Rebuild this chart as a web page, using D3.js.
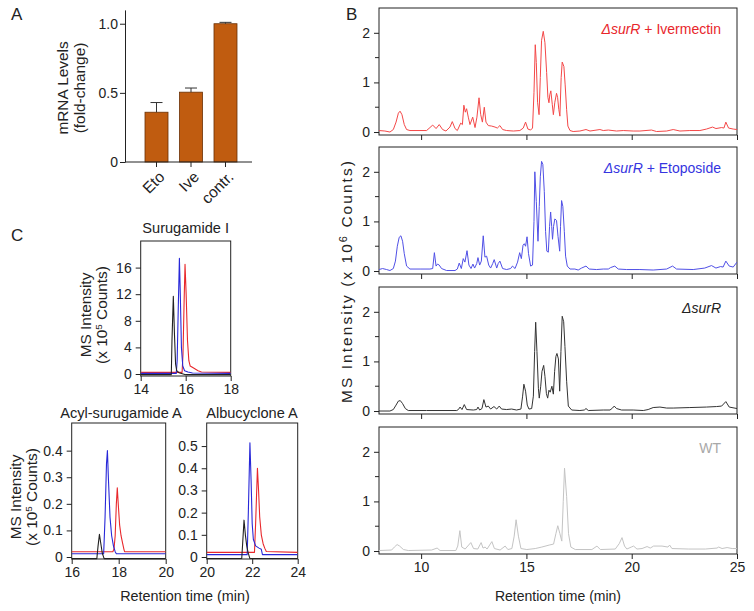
<!DOCTYPE html>
<html><head><meta charset="utf-8">
<script src="https://cdn.jsdelivr.net/npm/d3@7"></script>
<style>
body{margin:0;background:#fff;}
svg text{font-family:"Liberation Sans",Arial,sans-serif;fill:#222;}
</style></head><body>
<svg id="c" width="754" height="611"></svg>
<script>
// ---------- Panel A data ----------
const barCategories = ["Eto", "Ive", "contr."];
const barValues = [0.36, 0.505, 1.0];
const barErrors = [0.07, 0.03, 0.01];
const barTicks = [0, 0.5, 1.0];

// ---------- Panel B data (retention time, intensity x10^6) ----------
const ivermectinTrace = [[8.0,0.03],[8.28,0.02],[8.52,0.0],[8.68,0.05],[8.81,0.2],[8.92,0.38],[9.0,0.42],[9.09,0.35],[9.2,0.15],[9.31,0.05],[9.47,0.03],[10.26,0.03],[10.42,0.09],[10.55,0.14],[10.71,0.07],[10.86,0.15],[11.02,0.05],[11.18,0.02],[11.37,0.1],[11.48,0.21],[11.61,0.07],[11.72,0.03],[11.88,0.18],[11.96,0.15],[12.03,0.54],[12.1,0.4],[12.16,0.47],[12.24,0.3],[12.32,0.15],[12.45,0.3],[12.56,0.09],[12.65,0.3],[12.75,0.69],[12.83,0.35],[12.91,0.2],[13.0,0.5],[13.08,0.2],[13.19,0.13],[13.35,0.12],[13.51,0.1],[13.62,0.08],[13.74,0.13],[13.87,0.05],[14.06,0.03],[14.38,0.02],[14.69,0.03],[14.85,0.08],[14.96,0.2],[15.07,0.06],[15.2,0.04],[15.29,0.08],[15.36,0.8],[15.42,1.76],[15.47,1.4],[15.53,0.6],[15.6,0.35],[15.66,1.1],[15.72,1.85],[15.8,2.03],[15.88,1.8],[15.96,1.2],[16.02,0.7],[16.07,0.59],[16.11,0.75],[16.16,0.83],[16.23,0.55],[16.28,0.35],[16.35,0.6],[16.43,0.78],[16.48,0.7],[16.54,0.45],[16.59,0.32],[16.65,1.1],[16.7,1.41],[16.78,1.32],[16.84,0.95],[16.91,0.45],[16.97,0.12],[17.07,0.03],[17.22,0.01],[17.54,0.02],[17.83,0.05],[18.02,0.02],[18.49,0.05],[18.65,0.03],[18.89,0.04],[19.28,0.02],[19.6,0.03],[20.07,0.02],[20.39,0.02],[20.94,0.04],[21.18,0.01],[21.66,0.02],[21.97,0.05],[22.29,0.02],[22.76,0.03],[23.24,0.03],[23.55,0.06],[23.84,0.1],[24.0,0.07],[24.27,0.09],[24.38,0.08],[24.47,0.2],[24.6,0.08],[24.82,0.06],[25.0,0.05]];

const etoposideTrace = [[8.0,0.03],[8.17,0.05],[8.36,0.03],[8.52,0.01],[8.68,0.05],[8.78,0.2],[8.87,0.5],[8.96,0.68],[9.04,0.71],[9.12,0.6],[9.2,0.35],[9.31,0.1],[9.47,0.04],[9.95,0.04],[10.42,0.04],[10.55,0.05],[10.63,0.37],[10.71,0.1],[10.78,0.14],[10.86,0.12],[10.97,0.05],[11.21,0.01],[11.61,0.01],[11.72,0.04],[11.81,0.16],[11.91,0.05],[12.0,0.25],[12.08,0.18],[12.18,0.41],[12.27,0.12],[12.37,0.05],[12.46,0.14],[12.54,0.06],[12.64,0.15],[12.7,0.27],[12.78,0.12],[12.86,0.2],[12.95,0.71],[13.03,0.28],[13.11,0.3],[13.21,0.12],[13.3,0.06],[13.4,0.15],[13.47,0.23],[13.59,0.06],[13.66,0.15],[13.74,0.2],[13.87,0.05],[14.06,0.03],[14.25,0.05],[14.34,0.1],[14.46,0.05],[14.58,0.18],[14.68,0.37],[14.76,0.25],[14.84,0.52],[14.9,0.55],[14.96,0.5],[15.03,0.69],[15.1,0.35],[15.2,0.1],[15.29,0.12],[15.36,1.0],[15.4,2.0],[15.47,1.4],[15.55,0.6],[15.61,1.3],[15.66,1.9],[15.72,2.21],[15.78,2.15],[15.85,1.6],[15.91,0.8],[15.97,0.4],[16.04,0.38],[16.1,0.9],[16.15,1.19],[16.2,0.9],[16.24,0.64],[16.29,0.9],[16.35,1.05],[16.43,1.02],[16.5,0.7],[16.58,0.4],[16.62,0.9],[16.67,1.42],[16.73,1.3],[16.8,0.8],[16.86,0.3],[16.94,0.1],[17.07,0.04],[17.3,0.04],[17.46,0.02],[17.62,0.06],[17.83,0.1],[17.98,0.04],[18.33,0.03],[18.65,0.04],[18.89,0.04],[19.0,0.07],[19.2,0.1],[19.36,0.04],[19.76,0.03],[20.39,0.03],[21.02,0.02],[21.66,0.04],[21.94,0.1],[22.13,0.04],[22.92,0.03],[23.47,0.06],[23.79,0.11],[24.0,0.06],[24.22,0.09],[24.34,0.08],[24.47,0.2],[24.63,0.1],[24.82,0.08],[25.0,0.18]];

const surRTrace = [[8.0,0.0],[8.52,0.0],[8.68,0.03],[8.81,0.12],[8.92,0.2],[9.01,0.21],[9.12,0.15],[9.25,0.05],[9.39,0.01],[10.26,0.01],[11.69,0.01],[11.77,0.03],[11.85,0.08],[11.94,0.03],[12.05,0.13],[12.16,0.03],[12.48,0.02],[12.64,0.03],[12.7,0.08],[12.78,0.02],[12.89,0.05],[12.98,0.23],[13.08,0.08],[13.19,0.1],[13.3,0.04],[13.46,0.09],[13.59,0.04],[13.71,0.1],[13.82,0.04],[14.06,0.03],[14.3,0.04],[14.53,0.02],[14.74,0.04],[14.82,0.3],[14.88,0.54],[14.96,0.4],[15.04,0.12],[15.12,0.04],[15.25,0.05],[15.33,0.3],[15.39,1.2],[15.44,1.79],[15.5,1.2],[15.57,0.45],[15.61,0.26],[15.68,0.5],[15.74,0.8],[15.82,0.92],[15.88,0.7],[15.95,0.35],[16.01,0.26],[16.07,0.42],[16.13,0.38],[16.21,0.5],[16.28,0.34],[16.34,0.8],[16.4,1.1],[16.45,1.16],[16.52,1.05],[16.58,0.4],[16.64,1.2],[16.7,1.91],[16.77,1.8],[16.83,1.3],[16.91,0.6],[16.99,0.1],[17.15,0.02],[17.54,0.01],[17.75,0.02],[17.83,0.05],[17.94,0.01],[18.65,0.02],[18.97,0.02],[19.09,0.06],[19.17,0.1],[19.28,0.05],[19.52,0.02],[20.07,0.02],[20.55,0.01],[20.78,0.03],[21.02,0.07],[21.34,0.08],[21.66,0.06],[21.97,0.06],[22.76,0.07],[23.55,0.08],[24.03,0.09],[24.27,0.1],[24.47,0.19],[24.63,0.08],[25.0,0.05]];

const wtTrace = [[8.0,0.01],[8.6,0.02],[8.73,0.08],[8.86,0.13],[8.98,0.1],[9.16,0.03],[9.39,0.01],[10.5,0.02],[10.76,0.06],[10.9,0.01],[11.65,0.01],[11.74,0.1],[11.84,0.41],[11.93,0.08],[12.09,0.04],[12.36,0.17],[12.49,0.05],[12.69,0.04],[12.85,0.17],[12.94,0.06],[13.04,0.08],[13.13,0.04],[13.36,0.19],[13.48,0.05],[13.75,0.02],[13.99,0.1],[14.12,0.03],[14.31,0.05],[14.42,0.3],[14.51,0.63],[14.62,0.3],[14.74,0.05],[15.02,0.03],[15.42,0.05],[15.73,0.08],[16.08,0.12],[16.29,0.14],[16.4,0.35],[16.49,0.51],[16.59,0.35],[16.68,0.2],[16.75,1.0],[16.81,1.67],[16.91,1.1],[17.0,0.35],[17.11,0.08],[17.32,0.03],[18.11,0.03],[18.35,0.1],[18.51,0.03],[19.22,0.04],[19.41,0.15],[19.54,0.27],[19.66,0.1],[19.77,0.04],[19.98,0.08],[20.09,0.1],[20.25,0.04],[20.49,0.05],[20.73,0.09],[20.88,0.06],[21.04,0.1],[21.44,0.1],[21.72,0.08],[21.8,0.12],[21.91,0.05],[22.71,0.04],[23.5,0.04],[24.05,0.06],[24.13,0.08],[24.29,0.05],[24.53,0.07],[24.77,0.05],[25.0,0.05]];

const bYTicks = [0, 1, 2];
const bYMinor = [0.5, 1.5];
const bXTicks = [10, 15, 20, 25];

// ---------- Panel C data (retention time, intensity x10^5) ----------
const surugamideBlack = [[14,-0.1],[15.36,-0.1],[15.39,5],[15.45,11.7],[15.5,6],[15.55,1.5],[15.6,0.5],[15.7,0.2],[15.85,0.05],[16,-0.1],[18,-0.1]];
const surugamideBlue = [[14,0.1],[15.58,0.1],[15.62,2],[15.67,10],[15.72,17.4],[15.76,12],[15.81,4],[15.87,1.2],[15.95,0.5],[16.1,0.3],[16.3,0.15],[18,0.1]];
const surugamideRed = [[14,0.25],[15.84,0.25],[15.88,3],[15.93,11],[15.97,16.5],[16.02,12],[16.08,5],[16.14,2],[16.2,1.2],[16.35,0.9],[16.55,0.5],[16.7,0.3],[18,0.25]];
const surugamideYTicks = [0, 4, 8, 12, 16];
const surugamideXTicks = [14, 16, 18];

const acylBlack = [[16,-0.006],[17.07,-0.006],[17.12,0.04],[17.18,0.085],[17.24,0.05],[17.3,0.015],[17.38,-0.006],[20,-0.006]];
const acylBlue = [[16,0.0125],[17.36,0.0125],[17.42,0.15],[17.48,0.35],[17.52,0.4],[17.56,0.3],[17.63,0.15],[17.7,0.08],[17.78,0.04],[17.85,0.02],[17.9,0.0125],[20,0.0125]];
const acylRed = [[16,0.02],[17.75,0.02],[17.8,0.03],[17.85,0.08],[17.9,0.2],[17.94,0.26],[17.98,0.2],[18.04,0.12],[18.1,0.08],[18.17,0.05],[18.22,0.03],[18.25,0.02],[20,0.02]];
const acylYTicks = [0, 0.1, 0.2, 0.3, 0.4];
const acylXTicks = [16, 18, 20];

const albuBlack = [[20,-0.007],[21.54,-0.007],[21.58,0.06],[21.64,0.166],[21.7,0.1],[21.76,0.05],[21.82,0.02],[21.9,-0.007],[24,-0.007]];
const albuBlue = [[20,0.0105],[21.78,0.0105],[21.83,0.2],[21.9,0.515],[21.95,0.35],[22.0,0.15],[22.05,0.08],[22.15,0.05],[22.3,0.04],[22.4,0.035],[22.45,0.0105],[24,0.0105]];
const albuRed = [[20,0.021],[22.1,0.021],[22.15,0.15],[22.23,0.4],[22.28,0.3],[22.33,0.18],[22.4,0.1],[22.48,0.06],[22.55,0.04],[22.62,0.025],[24,0.021]];
const albuYTicks = [0, 0.1, 0.2, 0.3, 0.4, 0.5];
const albuXTicks = [20, 22, 24];

// ---------- drawing ----------
const svg = d3.select("#c");
const FONT = 14;
const STRETCH = 1.1; // rotated titles appear stretched along their length

function letter(t, x, y) {
  svg.append("text").attr("x", x).attr("y", y).attr("font-size", 17).text(t);
}
letter("A", 11, 20);
letter("B", 346, 20);
letter("C", 11, 241);

// Panel A
const xA = d3.scaleBand().domain(barCategories).range([138.1, 243.9]).paddingInner(0.333).paddingOuter(0.2);
const yA = d3.scaleLinear().domain([0, 1.1]).range([162, 9.9]);
const gA = svg.append("g");
gA.selectAll("rect.bar").data(barCategories).join("rect")
  .attr("x", d => xA(d)).attr("width", xA.bandwidth())
  .attr("y", (d, i) => yA(barValues[i])).attr("height", (d, i) => yA(0) - yA(barValues[i]))
  .attr("fill", "#c05c10").attr("stroke", "#6a3005").attr("stroke-width", 0.8);
gA.selectAll("g.err").data(barCategories).join("g").each(function (d, i) {
  const cx = xA(d) + xA.bandwidth() / 2;
  const g = d3.select(this);
  g.append("line").attr("x1", cx).attr("x2", cx).attr("y1", yA(barValues[i])).attr("y2", yA(barValues[i] + barErrors[i])).attr("stroke", "#333").attr("stroke-width", 1);
  g.append("line").attr("x1", cx - 6).attr("x2", cx + 6).attr("y1", yA(barValues[i] + barErrors[i])).attr("y2", yA(barValues[i] + barErrors[i])).attr("stroke", "#333").attr("stroke-width", 1);
});
const axA = gA.append("g").attr("transform", "translate(125,0)")
  .call(d3.axisLeft(yA).tickValues(barTicks).tickSize(5).tickPadding(2).tickSizeOuter(0).tickFormat(d => d === 0 ? "0" : d3.format(".1f")(d)));
axA.selectAll("text").attr("font-size", FONT).attr("font-family", null);
axA.selectAll("line,path").attr("stroke", "#222");
gA.append("line").attr("x1", 125).attr("x2", 252).attr("y1", 162).attr("y2", 162).attr("stroke", "#222");
barCategories.forEach(d => {
  const cx = xA(d) + xA.bandwidth() / 2;
  gA.append("line").attr("x1", cx).attr("x2", cx).attr("y1", 162).attr("y2", 167).attr("stroke", "#222");
  gA.append("text").attr("transform", `translate(${cx + 9},178) rotate(-45)`).attr("text-anchor", "end").attr("font-size", 15.5).text(d);
});
gA.append("text").attr("transform", `translate(68,88) rotate(-90) scale(${STRETCH},1)`).attr("text-anchor", "middle").attr("font-size", FONT).text("mRNA Levels");
gA.append("text").attr("transform", `translate(85,88) rotate(-90) scale(${STRETCH},1)`).attr("text-anchor", "middle").attr("font-size", FONT).text("(fold-change)");

// Framed chromatogram helper
function framed(x, y, opts) {
  const g = svg.append("g");
  const [x0, x1] = x.range();
  const [y0, y1] = y.range();
  g.append("rect").attr("x", x0).attr("y", y1).attr("width", x1 - x0).attr("height", y0 - y1)
    .attr("fill", "none").attr("stroke", "#222").attr("stroke-width", 1);
  const ay = g.append("g").attr("transform", `translate(${x0},0)`)
    .call(d3.axisLeft(y).tickValues(opts.yTicks).tickSize(5).tickSizeOuter(0).tickFormat(opts.yFormat || (d => d)));
  ay.select("path").remove();
  ay.selectAll("text").attr("font-size", opts.fs || FONT).attr("font-family", null).attr("dx", -1);
  ay.selectAll("line").attr("stroke", "#222");
  if (opts.yMinor) {
    opts.yMinor.forEach(v => g.append("line").attr("x1", x0 - 4).attr("x2", x0).attr("y1", y(v)).attr("y2", y(v)).attr("stroke", "#222"));
  }
  const ax = g.append("g").attr("transform", `translate(0,${y0})`)
    .call(d3.axisBottom(x).tickValues(opts.xTicks).tickSize(5).tickSizeOuter(0).tickFormat(opts.xLabels ? (d => d) : ""));
  ax.select("path").remove();
  ax.selectAll("text").attr("font-size", opts.fs || FONT).attr("font-family", null);
  ax.selectAll("line").attr("stroke", "#222");
  const clipId = "clip" + Math.round(x0) + "_" + Math.round(y1);
  g.append("clipPath").attr("id", clipId).append("rect").attr("x", x0).attr("y", y1).attr("width", x1 - x0).attr("height", y0 - y1 + 1);
  const line = d3.line().x(d => x(d[0])).y(d => y(d[1]));
  opts.series.forEach(s => {
    g.append("path").datum(s.data).attr("d", line).attr("fill", "none").attr("stroke", s.color)
      .attr("stroke-width", s.width || 1).attr("stroke-linejoin", "round").attr("clip-path", `url(#${clipId})`);
  });
  return g;
}

// Panel B
const bX = d3.scaleLinear().domain([8, 25]).range([379, 737]);
const bPanels = [
  { data: ivermectinTrace, line: "#f44848", text: "#e8262b", top: 8, label: ["ΔsurR", " + Ivermectin"] },
  { data: etoposideTrace, line: "#5050e6", text: "#3535e0", top: 147, label: ["ΔsurR", " + Etoposide"] },
  { data: surRTrace, line: "#333333", text: "#222", top: 287, label: ["ΔsurR", ""] },
  { data: wtTrace, line: "#c4c4c4", text: "#a8a8a8", top: 427, label: ["", "WT"] }
];
bPanels.forEach((p, i) => {
  const y = d3.scaleLinear().domain([-0.06, 2.5]).range([p.top + 127, p.top]);
  framed(bX, y, { yTicks: bYTicks, yMinor: bYMinor, xTicks: bXTicks, xLabels: i === 3, series: [{ data: p.data, color: p.line }] });
  const t = svg.append("text").attr("x", 721).attr("y", p.top + 26).attr("text-anchor", "end").attr("font-size", FONT);
  if (p.label[0]) t.append("tspan").attr("font-style", "italic").style("fill", p.text).text(p.label[0]);
  if (p.label[1]) t.append("tspan").style("fill", p.text).text(p.label[1]);
});
const bTitle = svg.append("text").attr("transform", `translate(352,281) rotate(-90) scale(${STRETCH},1)`).attr("text-anchor", "middle")
  .attr("font-size", FONT).style("letter-spacing", "1.9px");
bTitle.append("tspan").text("MS Intensity (x 10");
bTitle.append("tspan").attr("dy", -5).attr("font-size", 10).text("6");
bTitle.append("tspan").attr("dy", 5).text(" Counts)");
svg.append("text").attr("x", 558).attr("y", 601).attr("text-anchor", "middle").attr("font-size", FONT).text("Retention time (min)");

// Panel C
const RED = "#e8282c", BLUE = "#2828d8", BLACK = "#222";
const sx = d3.scaleLinear().domain([14, 18]).range([140.7, 230.7]);
const sy = d3.scaleLinear().domain([-0.3, 20]).range([376, 241]);
framed(sx, sy, { yTicks: surugamideYTicks, xTicks: surugamideXTicks, xLabels: true, fs: 14,
  series: [{ data: surugamideRed, color: RED, width: 1.1 }, { data: surugamideBlue, color: BLUE, width: 1.1 }, { data: surugamideBlack, color: BLACK, width: 1.1 }] });
svg.append("text").attr("x", 185.7).attr("y", 233).attr("text-anchor", "middle").attr("font-size", 14.6).text("Surugamide I");

const ax_ = d3.scaleLinear().domain([16, 20]).range([71.7, 165.7]);
const ay_ = d3.scaleLinear().domain([-0.0075, 0.504]).range([559, 423]);
framed(ax_, ay_, { yTicks: acylYTicks, xTicks: acylXTicks, xLabels: true, yFormat: d => d === 0 ? "0" : d3.format(".1f")(d),
  series: [{ data: acylRed, color: RED, width: 1.1 }, { data: acylBlue, color: BLUE, width: 1.1 }, { data: acylBlack, color: BLACK, width: 1.1 }] });
svg.append("text").attr("x", 121).attr("y", 418).attr("text-anchor", "middle").attr("font-size", 14.6).text("Acyl-surugamide A");

const lx = d3.scaleLinear().domain([20, 24]).range([206.7, 297.7]);
const ly = d3.scaleLinear().domain([-0.009, 0.604]).range([559, 423]);
framed(lx, ly, { yTicks: albuYTicks, xTicks: albuXTicks, xLabels: true, yFormat: d => d === 0 ? "0" : d3.format(".1f")(d),
  series: [{ data: albuRed, color: RED, width: 1.1 }, { data: albuBlue, color: BLUE, width: 1.1 }, { data: albuBlack, color: BLACK, width: 1.1 }] });
svg.append("text").attr("x", 252).attr("y", 418).attr("text-anchor", "middle").attr("font-size", 14.6).text("Albucyclone A");

svg.append("text").attr("x", 185).attr("y", 601).attr("text-anchor", "middle").attr("font-size", 14.4).text("Retention time (min)");

function cTitle(xa, xb, cy) {
  svg.append("text").attr("transform", `translate(${xa},${cy}) rotate(-90) scale(${STRETCH},1)`).attr("text-anchor", "middle").attr("font-size", FONT).text("MS Intensity");
  const t = svg.append("text").attr("transform", `translate(${xb},${cy}) rotate(-90) scale(${STRETCH},1)`).attr("text-anchor", "middle").attr("font-size", FONT);
  t.append("tspan").text("(x 10");
  t.append("tspan").attr("dy", -5).attr("font-size", 9).text("5");
  t.append("tspan").attr("dy", 5).text(" Counts)");
}
cTitle(91, 107, 315);
cTitle(21, 37, 497);
</script>
</body></html>
